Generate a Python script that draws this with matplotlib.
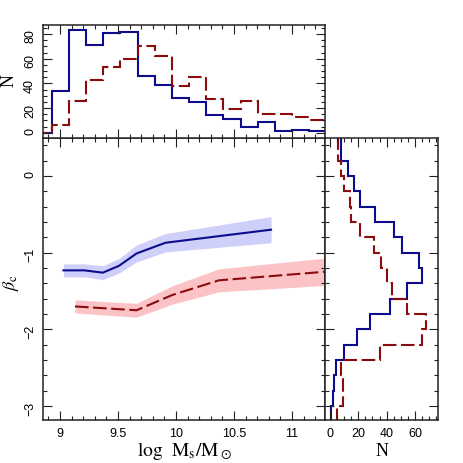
import numpy as np
import matplotlib
matplotlib.use('Agg')
import matplotlib.pyplot as plt
from matplotlib.ticker import MultipleLocator

# ---------------- data ----------------
mass_edges = [8.780, 8.929, 9.077, 9.225, 9.373, 9.521, 9.669, 9.817, 9.965,
              10.113, 10.261, 10.409, 10.557, 10.705, 10.853, 11.001, 11.149, 11.297]
mass_counts_blue = [0, 34, 83, 71, 81, 82, 46, 39, 28, 25, 14, 11, 5, 9, 1, 2, 1]
mass_counts_red = [0, 6, 26, 43, 53, 60, 70, 62, 38, 45, 27, 19, 26, 15, 15, 13, 10]

beta_edges = [-3.2, -3.0, -2.8, -2.6, -2.4, -2.2, -2.0, -1.8, -1.6, -1.4, -1.2,
              -1.0, -0.8, -0.6, -0.4, -0.2, 0.0, 0.2, 0.4, 0.6]
beta_counts_blue = [1, 2, 3, 4, 10, 19, 28, 42, 54, 65, 63, 51, 45, 32, 21, 17, 13, 8, 8]
beta_counts_red = [5, 9, 9, 8, 35, 65, 68, 54, 44, 40, 36, 31, 21, 15, 14, 10, 8, 6, 6]

blue_x = [9.03, 9.21, 9.37, 9.51, 9.66, 9.91, 10.82]
blue_y = [-1.23, -1.23, -1.26, -1.17, -1.01, -0.87, -0.70]
blue_err = [0.085, 0.085, 0.09, 0.095, 0.11, 0.12, 0.17]

red_x = [9.13, 9.66, 9.97, 10.37, 11.35]
red_y = [-1.70, -1.75, -1.55, -1.36, -1.24]
red_err = [0.085, 0.09, 0.12, 0.15, 0.18]

# ---------------- style ----------------
plt.rcParams['font.family'] = ['Liberation Sans', 'DejaVu Sans']
plt.rcParams['font.size'] = 9
plt.rcParams['mathtext.fontset'] = 'stix'

BLUE = '#0c0c8c'
RED = '#8b0c0c'
BLUE_FILL = '#cfd0fa'
RED_FILL = '#fcc3c6'
FRAME = '#222222'
DASH = (0, (6.5, 2.2))

W = H = 463.0
fig = plt.figure(figsize=(4.63, 4.63), dpi=100)

def frac(x0, y0, x1, y1):
    return [x0 / W, 1 - y1 / H, (x1 - x0) / W, (y1 - y0) / H]

ax_main = fig.add_axes(frac(43, 138, 325, 420))
ax_top = fig.add_axes(frac(43, 25, 325, 138))
ax_right = fig.add_axes(frac(325, 138, 438, 420))

def style(ax):
    for s in ax.spines.values():
        s.set_linewidth(1.1)
        s.set_color(FRAME)
    ax.tick_params(which='both', direction='in', top=True, right=True,
                   color=FRAME, width=0.8)
    ax.tick_params(which='major', length=6.5)
    ax.tick_params(which='minor', length=3.2)

# main panel
ax_main.fill_between(blue_x, np.array(blue_y) - np.array(blue_err),
                     np.array(blue_y) + np.array(blue_err), color=BLUE_FILL, lw=0)
ax_main.fill_between(red_x, np.array(red_y) - np.array(red_err),
                     np.array(red_y) + np.array(red_err), color=RED_FILL, lw=0)
ax_main.plot(blue_x, blue_y, color=BLUE, lw=1.5)
ax_main.plot(red_x, red_y, color=RED, lw=1.5, linestyle=DASH)
ax_main.set_xlim(8.854, 11.285)
ax_main.set_ylim(-3.18, 0.495)
ax_main.xaxis.set_major_locator(MultipleLocator(0.5))
ax_main.xaxis.set_minor_locator(MultipleLocator(0.1))
ax_main.yaxis.set_major_locator(MultipleLocator(1))
ax_main.yaxis.set_minor_locator(MultipleLocator(0.2))
ax_main.set_xticks([9, 9.5, 10, 10.5, 11])
ax_main.set_xticklabels(['9', '9.5', '10', '10.5', '11'])
style(ax_main)
ax_main.tick_params(axis='x', pad=6)
ax_main.tick_params(axis='y', labelrotation=90, pad=5)

# top histogram
ax_top.stairs(mass_counts_blue, mass_edges, baseline=None, color=BLUE, lw=1.5)
ax_top.stairs(mass_counts_red, mass_edges, baseline=None, color=RED, lw=1.5,
              linestyle=DASH)
ax_top.set_xlim(8.854, 11.285)
ax_top.set_ylim(-4.3, 87.3)
ax_top.xaxis.set_major_locator(MultipleLocator(0.5))
ax_top.xaxis.set_minor_locator(MultipleLocator(0.1))
ax_top.yaxis.set_major_locator(MultipleLocator(20))
ax_top.yaxis.set_minor_locator(MultipleLocator(5))
style(ax_top)
ax_top.tick_params(axis='x', labelbottom=False)
ax_top.tick_params(axis='y', labelrotation=90, pad=5)

# right histogram
ax_right.stairs(beta_counts_blue, beta_edges, baseline=None, color=BLUE, lw=1.5,
                orientation='horizontal')
ax_right.stairs(beta_counts_red, beta_edges, baseline=None, color=RED, lw=1.5,
                linestyle=DASH, orientation='horizontal')
ax_right.set_ylim(-3.18, 0.495)
ax_right.set_xlim(-3.5, 76.2)
ax_right.xaxis.set_major_locator(MultipleLocator(20))
ax_right.xaxis.set_minor_locator(MultipleLocator(5))
ax_right.yaxis.set_major_locator(MultipleLocator(1))
ax_right.yaxis.set_minor_locator(MultipleLocator(0.2))
style(ax_right)
ax_right.tick_params(axis='y', labelleft=False)
ax_right.tick_params(axis='x', pad=6)

# axis labels
lab = dict(family='Liberation Serif', fontsize=13, ha='center', va='center')
fig.text(184 / W, 1 - 451 / H, r'$\mathrm{log\ \ M_s/M_\odot}$', fontsize=14,
         ha='center', va='center')
fig.text(382 / W, 1 - 451 / H, 'N', **lab)
fig.text(9 / W, 1 - 81 / H, 'N', rotation=90, **lab)
fig.text(11 / W, 1 - 282 / H, r'$\beta_{\rm c}$', rotation=90, fontsize=13,
         ha='center', va='center')

fig.savefig('out.png', dpi=100)
